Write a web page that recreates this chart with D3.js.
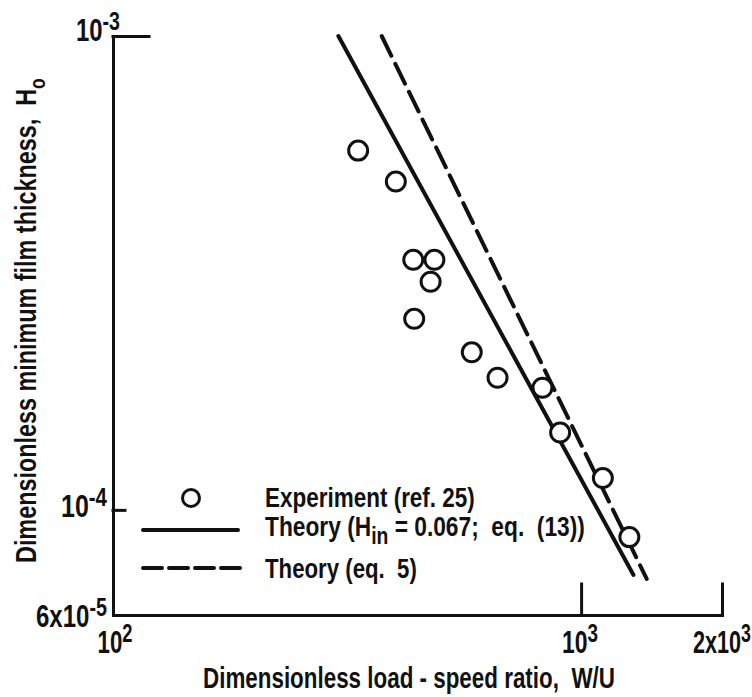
<!DOCTYPE html>
<html>
<head>
<meta charset="utf-8">
<script src="https://cdn.jsdelivr.net/npm/d3@7"></script>
<style>
  body { margin: 0; background: #fff; }
  text { font-family: "Liberation Sans", Arial, sans-serif; font-weight: bold; fill: #111; white-space: pre; }
</style>
</head>
<body>
<div id="chart"></div>
<script>
// Experiment (ref. 25): load-speed ratio W/U and min film thickness H0
const expLoad = [334, 402, 438, 486, 477, 440, 584, 663, 827, 902, 1113, 1268];
const expFilm = [5.73e-4, 4.93e-4, 3.37e-4, 3.37e-4, 3.03e-4, 2.53e-4, 2.15e-4, 1.90e-4, 1.81e-4, 1.456e-4, 1.167e-4, 8.76e-5];

// theory lines (end points)
const theory13Load = [303, 1294];
const theory13Film = [1.0e-3, 7.29e-5];
const theory5Load = [375, 1381];
const theory5Film = [1.0e-3, 7.15e-5];

// ticks
const xTicks = [100, 1000, 2000];
const xTickLabels = [["10", "2"], ["10", "3"], ["2x10", "3"]];
const yTicks = [1e-3, 1e-4, 6e-5];
const yTickLabels = [["10", "-3"], ["10", "-4"], ["6x10", "-5"]];

const width = 752, height = 697;
const ink = "#111";

const svg = d3.select("#chart").append("svg")
  .attr("width", width)
  .attr("height", height);

// log scales
const x = d3.scaleLog().domain([100, 2000]).range([113, 722]);
const y = d3.scaleLog().domain([6e-5, 1e-3]).range([615, 36]);

// text with sub/superscripts, squeezed to a given width
function fitText(g, parts, size, w, place) {
  const t = g.append("text").attr("font-size", size);
  let shift = 0;
  parts.forEach(p => {
    const target = p.sup ? -0.36 * size : p.sub ? p.sub * size : 0;
    t.append("tspan")
      .attr("font-size", p.sup || p.sub ? size * (p.scale || 0.82) : size)
      .attr("dy", target - shift)
      .text(p.t);
    shift = target;
  });
  const bb = t.node().getBBox();
  const s = w / bb.width;
  t.attr("x", -bb.x);
  t.attr("transform", place + ` scale(${s},1)`);
  return t;
}

// axes
const axisG = svg.append("g");
axisG.append("g").attr("transform", `translate(${x(100)},0)`)
  .call(d3.axisLeft(y).tickValues([1e-4]).tickSize(-12).tickSizeOuter(0).tickFormat(""));
axisG.append("g").attr("transform", `translate(${x(100)},0)`)
  .call(d3.axisLeft(y).tickValues([1e-3]).tickSize(-36).tickSizeOuter(0).tickFormat(""))
  .select(".domain").remove();
axisG.append("g").attr("transform", `translate(0,${y(6e-5)})`)
  .call(d3.axisBottom(x).tickValues([1000, 2000]).tickSize(-31).tickSizeOuter(0).tickFormat(""));
axisG.selectAll("path, line")
  .attr("stroke", ink)
  .attr("stroke-width", 3)
  .attr("stroke-linecap", "square");

// tick labels
const xLabelPos = [{ dx: 2, w: 35 }, { dx: -1, w: 36 }, { dx: 0, w: 58 }];
xTicks.forEach((v, i) => {
  const p = xLabelPos[i];
  const lab = xTickLabels[i];
  fitText(svg, [{ t: lab[0] }, { t: lab[1], sup: true }], 31, p.w,
    `translate(${x(v) + p.dx - p.w / 2},653)`);
});
const yLabelPos = [{ right: 120, base: 5, w: 44 }, { right: 107, base: 7, w: 46 }, { right: 107, base: 12, w: 71 }];
yTicks.forEach((v, i) => {
  const p = yLabelPos[i];
  const lab = yTickLabels[i];
  fitText(svg, [{ t: lab[0] }, { t: lab[1], sup: true }], 31, p.w,
    `translate(${p.right - p.w},${y(v) + p.base})`);
});

// axis titles
fitText(svg, [{ t: "Dimensionless load - speed ratio,  W/U" }], 30, 412, "translate(203,688)");
fitText(svg, [{ t: "Dimensionless minimum film thickness,  H" }, { t: "o", sub: 0.3, scale: 0.75 }], 29, 485,
  "translate(36,563) rotate(-90)");

// theory lines
const line = d3.line().x(d => x(d[0])).y(d => y(d[1]));
svg.append("path")
  .datum(d3.zip(theory13Load, theory13Film))
  .attr("d", line)
  .attr("fill", "none")
  .attr("stroke", ink)
  .attr("stroke-width", 4)
  .attr("stroke-linecap", "round");
svg.append("path")
  .datum(d3.zip(theory5Load, theory5Film))
  .attr("d", line)
  .attr("fill", "none")
  .attr("stroke", ink)
  .attr("stroke-width", 4)
  .attr("stroke-dasharray", "22,9")
  .attr("stroke-linecap", "round");

// experiment points
svg.append("g").selectAll("circle")
  .data(d3.zip(expLoad, expFilm))
  .join("circle")
  .attr("cx", d => x(d[0]))
  .attr("cy", d => y(d[1]))
  .attr("r", 9.5)
  .attr("fill", "#fff")
  .attr("stroke", ink)
  .attr("stroke-width", 3);

// legend
const leg = svg.append("g");
leg.append("circle").attr("cx", 191).attr("cy", 498).attr("r", 8.5)
  .attr("fill", "#fff").attr("stroke", ink).attr("stroke-width", 3);
leg.append("line").attr("x1", 143).attr("x2", 238).attr("y1", 530).attr("y2", 530)
  .attr("stroke", ink).attr("stroke-width", 4).attr("stroke-linecap", "round");
leg.append("line").attr("x1", 143).attr("x2", 240).attr("y1", 568).attr("y2", 568)
  .attr("stroke", ink).attr("stroke-width", 4).attr("stroke-linecap", "round")
  .attr("stroke-dasharray", "19,7");
fitText(leg, [{ t: "Experiment (ref. 25)" }], 28, 210, "translate(265,507)");
fitText(leg, [{ t: "Theory (H" }, { t: "in", sub: 0.3, scale: 0.85 }, { t: " = 0.067;  eq.  (13))" }], 28, 320,
  "translate(265,536)");
fitText(leg, [{ t: "Theory (eq.  5)" }], 28, 152, "translate(265,578)");
</script>
</body>
</html>
